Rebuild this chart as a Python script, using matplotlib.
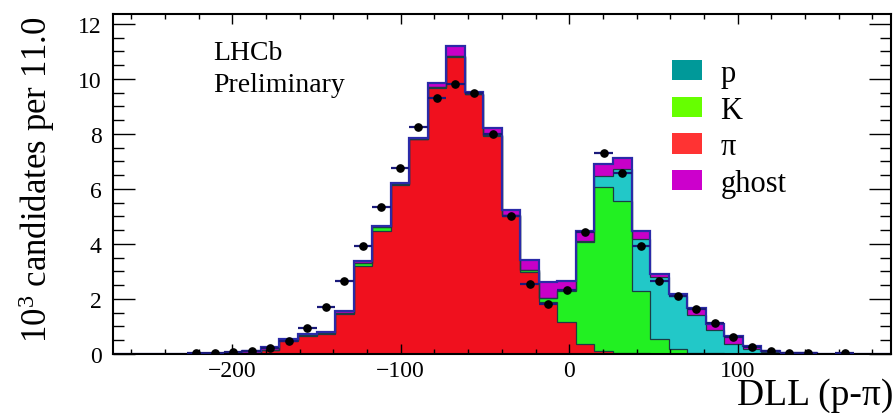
import numpy as np
import matplotlib
matplotlib.use("Agg")
import matplotlib.pyplot as plt
from matplotlib.patches import Patch
from matplotlib.ticker import MultipleLocator

plt.rcParams['font.family'] = ['Liberation Serif', 'DejaVu Serif']
plt.rcParams['mathtext.fontset'] = 'custom'
plt.rcParams['mathtext.rm'] = 'Liberation Serif'
plt.rcParams['mathtext.it'] = 'Liberation Serif:italic'

# ---- binning: 42 bins of width 11 in DLL(p-pi) ----
bin_low = -271.0
bin_width = 11.0
n_bins = 42

# ---- stacked MC components (10^3 candidates per bin) ----
pion = [0, 0, 0, 0, 0, 0, 0.01, 0.05, 0.15, 0.48, 0.64, 0.72, 1.45, 3.20, 4.47, 6.15,
        7.80, 9.67, 10.81, 9.45, 7.94, 5.00, 2.97, 1.90, 1.18, 0.36, 0.12, 0.05, 0.02,
        0.01, 0, 0, 0, 0, 0, 0, 0, 0, 0, 0, 0, 0]
kaon = [0, 0, 0, 0, 0, 0, 0, 0, 0, 0.03, 0.04, 0.04, 0.05, 0.12, 0.15, 0.04,
        0.03, 0.03, 0.02, 0.01, 0.03, 0.05, 0.10, 0.12, 1.12, 3.70, 5.94, 5.53, 2.28,
        0.54, 0.18, 0.05, 0.02, 0.01, 0, 0, 0, 0, 0, 0, 0, 0]
proton = [0, 0, 0, 0, 0, 0, 0, 0, 0, 0, 0, 0, 0, 0, 0, 0,
          0, 0, 0, 0, 0, 0, 0, 0, 0.02, 0.05, 0.42, 1.15, 1.88,
          2.24, 1.94, 1.37, 0.85, 0.36, 0.20, 0.08, 0.02, 0.01, 0, 0, 0, 0]
ghost = [0, 0, 0, 0, 0, 0, 0.01, 0.05, 0.09, 0.04, 0.05, 0.05, 0.05, 0.05, 0.05, 0.03,
         0.03, 0.15, 0.38, 0.07, 0.25, 0.17, 0.33, 0.58, 0.35, 0.37, 0.43, 0.39, 0.30,
         0.12, 0.06, 0.25, 0.23, 0.27, 0.08, 0.04, 0.02, 0.01, 0.01, 0.01, 0, 0]

# ---- data points ----
nan = np.nan
data = [nan, nan, nan, nan, 0.04, 0.04, 0.06, 0.10, 0.22, 0.46, 0.95, 1.72, 2.67, 3.92,
        5.33, 6.76, 8.24, 9.30, 9.82, 9.48, 8.00, 5.00, 2.54, 1.80, 2.34, 4.42, 7.31,
        6.58, 3.94, 2.64, 2.12, 1.65, 1.13, 0.62, 0.24, 0.11, 0.04, 0.02, nan, 0.02,
        nan, nan]

labels = ['p', 'K', 'π', 'ghost']
fill_colors = {'p': '#22c8c8', 'K': '#22f022', 'π': '#f0101e', 'ghost': '#c800c8'}
legend_colors = {'p': '#009999', 'K': '#66ff00', 'π': '#ff3333', 'ghost': '#cc00cc'}

edges = bin_low + bin_width * np.arange(n_bins + 1)
centers = 0.5 * (edges[:-1] + edges[1:])

c_pi = np.array(pion)
c_k = c_pi + np.array(kaon)
c_p = c_k + np.array(proton)
c_tot = c_p + np.array(ghost)

fig = plt.figure(figsize=(8.95, 4.14), dpi=100)
ax = fig.add_axes([0.1259, 0.1425, 0.8696, 0.8213])

# filled stack (top-most cumulative first)
for cum, lab in [(c_tot, 'ghost'), (c_p, 'p'), (c_k, 'K'), (c_pi, 'π')]:
    ax.stairs(cum, edges, baseline=0, fill=True, color=fill_colors[lab], lw=0)
# inner boundaries
for cum in [c_p, c_k, c_pi]:
    ax.stairs(cum, edges, baseline=None, color='#1c3c44', lw=0.9)
# total outline
ax.stairs(c_tot, edges, baseline=0, color='#2a2aa8', lw=1.6)

# data
d = np.array(data)
ax.errorbar(centers, d, xerr=bin_width / 2, fmt='o', color='black', ms=5.2,
            ecolor='#1a1a7a', elinewidth=1.6, capsize=0, zorder=5)

ax.set_xlim(edges[0], edges[-1])
ax.set_ylim(0, 12.36)

ax.xaxis.set_major_locator(MultipleLocator(100))
ax.xaxis.set_minor_locator(MultipleLocator(20))
ax.yaxis.set_major_locator(MultipleLocator(2))
ax.yaxis.set_minor_locator(MultipleLocator(0.5))
ax.tick_params(axis='both', which='both', direction='in', top=True, right=True,
               width=1.0, color='black')
ax.tick_params(axis='x', which='major', length=7.2, labelsize=17, pad=4)
ax.tick_params(axis='x', which='minor', length=3.6)
ax.tick_params(axis='y', which='major', length=16, labelsize=17, pad=8)
ax.tick_params(axis='y', which='minor', length=8)
for s in ax.spines.values():
    s.set_linewidth(1.5)
    s.set_color('black')

# axis titles
fig.text(0.041, 0.565, r'$\mathrm{10}^{3}$ candidates per 11.0', rotation=90,
         ha='center', va='center', fontsize=25)
fig.text(0.998, 1 - 405 / 414, 'DLL (p-π)', ha='right', va='baseline', fontsize=27)

# LHCb Preliminary
fig.text(0.238, 1 - 60 / 414, 'LHCb', ha='left', va='baseline', fontsize=20)
fig.text(0.238, 1 - 92 / 414, 'Preliminary', ha='left', va='baseline', fontsize=20)

# legend
handles = [Patch(facecolor=legend_colors[l], edgecolor='none', label=l) for l in labels]
ax.legend(handles=handles, loc='upper left', bbox_to_anchor=(671.7 / 895, 1 - 60 / 414),
          bbox_transform=fig.transFigure, frameon=False, fontsize=22,
          handlelength=0.98, handleheight=0.65, handletextpad=0.62,
          labelspacing=0.25, borderpad=0, borderaxespad=0)

fig.savefig('out.png', dpi=100)
